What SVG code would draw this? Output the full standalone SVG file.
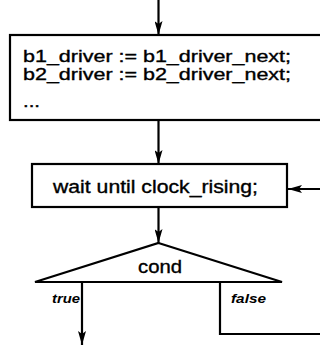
<svg xmlns="http://www.w3.org/2000/svg" width="320" height="345" viewBox="0 0 320 345">
  <style>
    .shape { fill: #fff; stroke: #000; stroke-width: 2.2; }
    .wire { fill: none; stroke: #000; stroke-width: 2.2; }
    .txt { font-family: "Liberation Sans", Arial, Helvetica, sans-serif; fill: #000; stroke: #000; stroke-width: 0.35; }
    .lbl { font-family: "Liberation Sans", Arial, Helvetica, sans-serif; font-style: italic; font-weight: bold; fill: #000; }
  </style>
  <defs>
    <marker id="arrow" viewBox="0 0 14 8" refX="14" refY="4" markerWidth="14" markerHeight="8" markerUnits="userSpaceOnUse" orient="auto">
      <path d="M0,0 L14,4 L0,8 L3,4 Z" fill="#000"/>
    </marker>
  </defs>

  <rect width="320" height="345" fill="#fff"/>

  <!-- connectors -->
  <g id="connectors">
    <line class="wire" x1="158.5" y1="0" x2="158.5" y2="35" marker-end="url(#arrow)"/>
    <line class="wire" x1="158.5" y1="120" x2="158.5" y2="164" marker-end="url(#arrow)"/>
    <line class="wire" x1="158.5" y1="207" x2="158.5" y2="243" marker-end="url(#arrow)"/>
    <line class="wire" x1="82" y1="282" x2="82" y2="345" marker-end="url(#arrow)"/>
    <polyline class="wire" points="220,282 220,334 322,334"/>
    <line class="wire" x1="322" y1="189" x2="288" y2="189" marker-end="url(#arrow)"/>
  </g>

  <!-- assignment block -->
  <g id="assign">
    <rect class="shape" x="10" y="35" width="330" height="85"/>
    <text class="txt" x="23" y="62" font-size="16" textLength="268" lengthAdjust="spacingAndGlyphs">b1_driver := b1_driver_next;</text>
    <text class="txt" x="23" y="80" font-size="16" textLength="268" lengthAdjust="spacingAndGlyphs">b2_driver := b2_driver_next;</text>
    <text class="txt" x="23" y="107" font-size="16" textLength="17" lengthAdjust="spacingAndGlyphs">...</text>
  </g>

  <!-- wait statement -->
  <g id="wait">
    <rect class="shape" x="32" y="164" width="255" height="43"/>
    <text class="txt" x="53" y="193" font-size="17.5" textLength="205" lengthAdjust="spacingAndGlyphs">wait until clock_rising;</text>
  </g>

  <!-- decision -->
  <g id="cond">
    <polygon class="shape" points="158.5,243 282,282 35,282" stroke-linejoin="miter"/>
    <text class="txt" x="138" y="273" font-size="17.5" textLength="44" lengthAdjust="spacingAndGlyphs">cond</text>
  </g>

  <!-- branch labels -->
  <g id="labels">
    <text class="lbl" x="52" y="303" font-size="12" textLength="28" lengthAdjust="spacingAndGlyphs">true</text>
    <text class="lbl" x="231" y="303" font-size="12" textLength="35" lengthAdjust="spacingAndGlyphs">false</text>
  </g>
</svg>
